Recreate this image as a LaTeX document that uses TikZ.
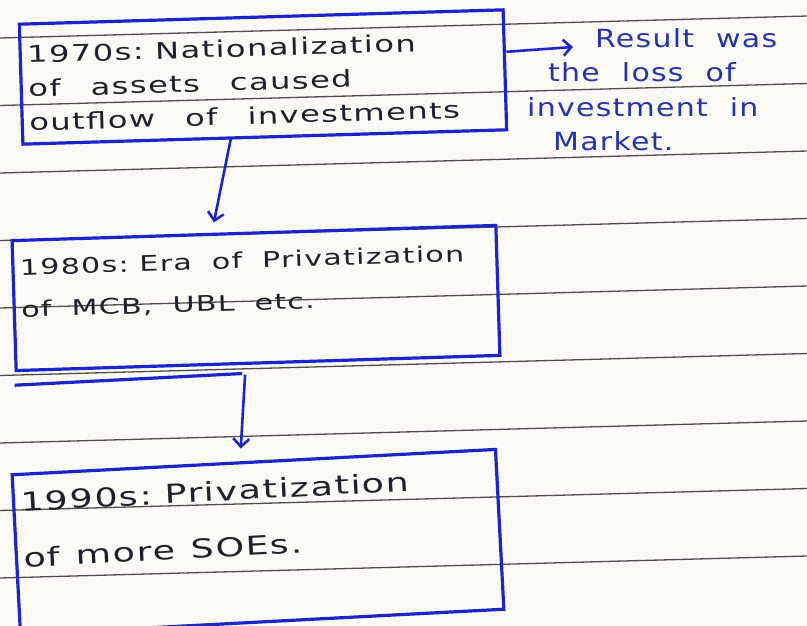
\documentclass[tikz,border=0pt]{standalone}
\usepackage{fontspec}
\newfontfamily\handfont[FakeStretch=1.4,LetterSpace=6]{DejaVu Sans}
\newfontfamily\sidefont[FakeStretch=1.2,LetterSpace=5]{DejaVu Sans}
\usetikzlibrary{arrows.meta}
\definecolor{inkblue}{RGB}{28,38,200}
\definecolor{penblue}{RGB}{38,52,170}
\definecolor{penblack}{RGB}{32,32,42}
\definecolor{paper}{RGB}{250,249,246}
\definecolor{ruling}{RGB}{80,76,76}

\begin{document}
\begin{tikzpicture}[
    x=1pt, y=-1pt,
    >={Straight Barb[length=8pt,width=16pt]},
    notebox/.style={draw=inkblue,
      line width=3.2pt,
      text=penblack,
      align=left,
      inner sep=7pt,
      text width=470pt,
      font=\handfont\fontsize{23}{34}\selectfont},
    wordgap/.style={execute at begin node={\spaceskip=#1\relax}},
    sidenote/.style={text=penblue, align=left, inner sep=0pt,
      font=\sidefont\fontsize{25}{34.5}\selectfont},
    flow/.style={->, draw=inkblue, line width=2.6pt},
    ruled/.style={draw=ruling, line width=1.3pt}
  ]
  \useasboundingbox (0,0) rectangle (807,626);
  \clip (0,0) rectangle (807,626);
  \fill[paper] (0,0) rectangle (807,626);

  % ruled paper
  \foreach \k in {0,...,8}
    \draw[ruled] (0,{38+67.5*\k}) -- (807,{16+67.5*\k});

  \node[notebox, wordgap=30pt, rotate=1.7, text height=32pt, text depth=74pt] (b1) at (263,77) {%
    1970s: Nationalization\\
    of assets caused\\
    outflow of investments};
  \node[notebox, wordgap=20pt, rotate=1.8, text height=28pt, text depth=88pt,
    font=\handfont\fontsize{21.5}{42}\selectfont] (b2) at (256,298) {%
    1980s: Era of Privatization\\
    of MCB, UBL etc.};
  \node[notebox, wordgap=16pt, rotate=3, text height=30pt, text depth=116pt,
    font=\handfont\fontsize{26}{56}\selectfont] (b3) at (258,542) {%
    1990s: Privatization\\
    of more SOEs.};

  \node[sidenote, wordgap=22pt, anchor=north west] (res) at (527,28) {%
    \hspace*{68pt}Result was\\
    \hspace*{21pt}the loss of\\
    investment in\\
    \hspace*{26pt}Market.};

  \draw[inkblue, line width=3.2pt]
    ([yshift=-13pt]b2.south west) -- ([xshift=-16pt,yshift=-9pt]b2.south);

  \draw[flow] ([yshift=18pt]b1.east) -- ([xshift=46pt,yshift=-19pt]res.north west);
  \draw[flow] ([xshift=-34pt]b1.south) -- ([xshift=-40pt,yshift=9pt]b2.north);
  \draw[flow] ([xshift=-13pt,yshift=-10pt]b2.south) -- ([xshift=-13pt,yshift=12pt]b3.north);
\end{tikzpicture}
\end{document}
